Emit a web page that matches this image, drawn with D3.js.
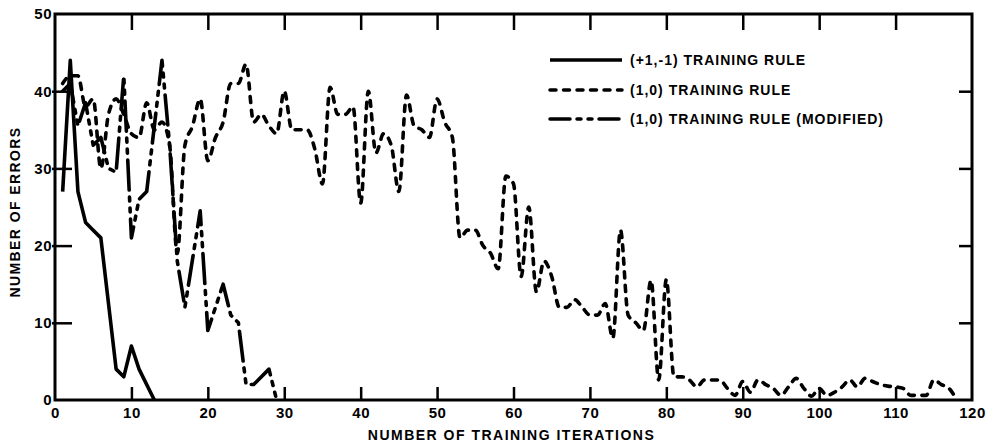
<!DOCTYPE html>
<html>
<head>
<meta charset="utf-8">
<script src="https://cdn.jsdelivr.net/npm/d3@7"></script>
<style>
body { margin: 0; background: #fff; }
text { font-family: "Liberation Sans", Arial, sans-serif; font-weight: bold; fill: #000; }
</style>
</head>
<body>
<svg id="chart" width="988" height="445"></svg>
<script>
// tick values
let xTicks = [0, 10, 20, 30, 40, 50, 60, 70, 80, 90, 100, 110, 120];
let yTicks = [0, 10, 20, 30, 40, 50];

// (+1,-1) training rule
let pmIter   = [1, 2, 3, 4, 5, 6, 8, 9, 10, 11, 13];
let pmErrors = [27, 44, 27, 23, 22, 21, 4, 3, 7, 4, 0];

// (1,0) training rule (modified)
let modIter   = [1, 2, 3, 4, 5, 6, 7, 8, 9, 10, 11, 12, 14, 15, 16, 17, 19, 20, 22, 23, 24, 25, 26, 28, 29];
let modErrors = [40, 41, 35.5, 38.5, 33, 34, 30, 29.5, 42, 21, 26, 27, 44, 33, 18, 12, 24.5, 9, 15, 11, 10, 2, 2, 4, 0];

// (1,0) training rule
let zoIter = d3.range(1, 119);
let zoErrors = [
  41, 42, 42, 38, 39, 30, 37, 39, 37, 34.5,
  34, 38.5, 35, 36, 33, 19, 33, 35.5, 39, 31,
  34, 36, 41, 41, 43.5, 36, 37, 35.5, 34.5, 40,
  35, 35, 35, 32.5, 28, 40.5, 37, 37, 38, 25.5,
  40, 32, 34.5, 33, 27, 39.5, 35.5, 35, 34, 39,
  36, 34, 21, 22, 22, 20, 19, 17, 29, 28,
  16, 25, 14, 18, 16, 12, 12, 13, 12, 11,
  11, 12.5, 8, 22, 11, 10, 9, 15.5, 2.6, 15.6,
  3, 3, 2.6, 1.7, 2.6, 2.6, 2.6, 1.5, 0.6, 2.4,
  1, 2.6, 2, 1.5, 0.6, 1.7, 2.8, 1.5, 0.5, 1.5,
  0.6, 1, 1.7, 2.6, 1.7, 2.8, 2.4, 2, 1.8, 1.7,
  1.5, 0.6, 0.6, 0.6, 2.6, 2, 1.5, 0
];

let legendLabels = ["(+1,-1) TRAINING RULE", "(1,0) TRAINING RULE", "(1,0) TRAINING RULE (MODIFIED)"];
let legendDash = [null, "6,7.5", "30,7,4,7,4,7"];

let svg = d3.select("#chart");
let plotLeft = 55, plotRight = 972, plotTop = 14, plotBottom = 400;

let x = d3.scaleLinear().domain([0, 120]).range([plotLeft, plotRight]);
let y = d3.scaleLinear().domain([0, 50]).range([plotBottom, plotTop]);

// inner ticks on all four sides
let bottomAxis = svg.append("g")
    .attr("transform", "translate(0, " + plotBottom + ")")
    .call(d3.axisBottom(x).tickValues(xTicks).tickSize(-13).tickSizeOuter(0).tickPadding(7));
let topAxis = svg.append("g")
    .attr("transform", "translate(0, " + plotTop + ")")
    .call(d3.axisTop(x).tickValues(xTicks).tickSize(-16).tickSizeOuter(0).tickFormat(""));
let leftAxis = svg.append("g")
    .attr("transform", "translate(" + plotLeft + ", 0)")
    .call(d3.axisLeft(y).tickValues(yTicks).tickSize(-17).tickSizeOuter(0).tickPadding(3));
let rightAxis = svg.append("g")
    .attr("transform", "translate(" + plotRight + ", 0)")
    .call(d3.axisRight(y).tickValues(yTicks).tickSize(-13).tickSizeOuter(0).tickFormat(""));

[bottomAxis, topAxis, leftAxis, rightAxis].forEach(a => {
    a.select(".domain").remove();
    a.selectAll(".tick line").attr("stroke", "#000").attr("stroke-width", 2.5);
    a.selectAll("text").attr("font-size", 15).attr("font-family", "'Liberation Sans', Arial, sans-serif")
        .attr("font-weight", "bold").attr("letter-spacing", 0.5);
});
// end ticks sit on the frame
bottomAxis.selectAll(".tick line").filter(d => d == 0 || d == 120).remove();
topAxis.selectAll(".tick line").filter(d => d == 0 || d == 120).remove();
leftAxis.selectAll(".tick line").filter(d => d == 0 || d == 50).remove();
rightAxis.selectAll(".tick line").filter(d => d == 0 || d == 50).remove();
leftAxis.selectAll(".tick line").attr("x1", -3);

svg.append("rect")
    .attr("x", plotLeft).attr("y", plotTop)
    .attr("width", plotRight - plotLeft).attr("height", plotBottom - plotTop)
    .attr("fill", "none").attr("stroke", "#000").attr("stroke-width", 3);

let straight = d3.line()
    .x(d => x(d[0]))
    .y(d => y(d[1]));
let smooth = d3.line()
    .curve(d3.curveMonotoneX)
    .x(d => x(d[0]))
    .y(d => y(d[1]));

let lineGroup = svg.append("g")
    .attr("fill", "none").attr("stroke", "#000")
    .attr("stroke-width", 3.6).attr("stroke-linejoin", "round");

lineGroup.append("path")
    .datum(zoIter.map((v, i) => [v, zoErrors[i]]))
    .attr("d", smooth)
    .attr("stroke-linecap", "round")
    .attr("stroke-dasharray", legendDash[1]);

lineGroup.append("path")
    .datum(modIter.map((v, i) => [v, modErrors[i]]))
    .attr("d", straight)
    .attr("stroke-linecap", "round")
    .attr("stroke-dasharray", legendDash[2]);

lineGroup.append("path")
    .datum(pmIter.map((v, i) => [v, pmErrors[i]]))
    .attr("d", straight);

// legend
let legend = svg.append("g");
let legendY = [60, 90, 119];
legendLabels.forEach((label, i) => {
    legend.append("line")
        .attr("x1", 550).attr("x2", 622)
        .attr("y1", legendY[i]).attr("y2", legendY[i])
        .attr("stroke", "#000").attr("stroke-width", 3.5)
        .attr("stroke-linecap", i == 0 ? "butt" : "round")
        .attr("stroke-dasharray", i == 2 ? "20,7,4,7,4,7" : legendDash[i]);
    legend.append("text")
        .attr("x", 630).attr("y", legendY[i] + 5)
        .attr("font-size", 14).attr("letter-spacing", 1)
        .text(label);
});

// axis titles
svg.append("text")
    .attr("x", (plotLeft + plotRight) / 2 - 2).attr("y", 440)
    .attr("text-anchor", "middle")
    .attr("font-size", 14).attr("letter-spacing", 1.5)
    .text("NUMBER OF TRAINING ITERATIONS");

svg.append("text")
    .attr("transform", "translate(20, 212) rotate(-90)")
    .attr("text-anchor", "middle")
    .attr("font-size", 14).attr("letter-spacing", 1.4)
    .text("NUMBER OF ERRORS");
</script>
</body>
</html>
